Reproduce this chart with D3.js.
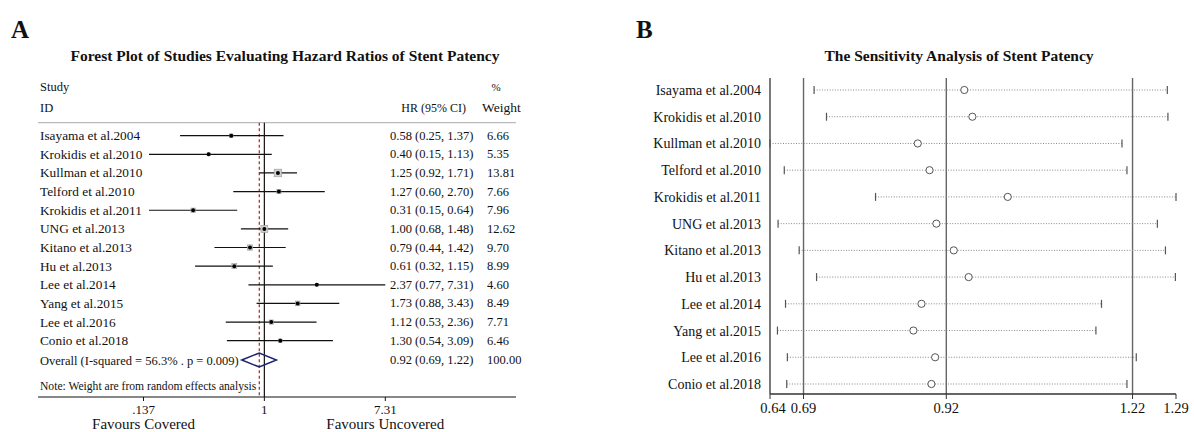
<!DOCTYPE html>
<html>
<head>
<meta charset="utf-8">
<script src="https://cdn.jsdelivr.net/npm/d3@7/dist/d3.min.js"></script>
<style>
  html, body { margin: 0; padding: 0; background: #fff; }
  svg text { font-family: "Liberation Serif", "DejaVu Serif", serif; fill: #111; }
</style>
</head>
<body>
<svg id="chart" width="1194" height="432"></svg>
<script>
// ---------- Panel A data ----------
const studies = ["Isayama et al.2004","Krokidis et al.2010","Kullman et al.2010","Telford et al.2010",
  "Krokidis et al.2011","UNG et al.2013","Kitano et al.2013","Hu et al.2013",
  "Lee et al.2014","Yang et al.2015","Lee et al.2016","Conio et al.2018"];
const hr      = [0.58, 0.40, 1.25, 1.27, 0.31, 1.00, 0.79, 0.61, 2.37, 1.73, 1.12, 1.30];
const hrLow   = [0.25, 0.15, 0.92, 0.60, 0.15, 0.68, 0.44, 0.32, 0.77, 0.88, 0.53, 0.54];
const hrHigh  = [1.37, 1.13, 1.71, 2.70, 0.64, 1.48, 1.42, 1.15, 7.31, 3.43, 2.36, 3.09];
const weights = [6.66, 5.35, 13.81, 7.66, 7.96, 12.62, 9.70, 8.99, 4.60, 8.49, 7.71, 6.46];
const overallEst = 0.92, overallLow = 0.69, overallHigh = 1.22, overallWeight = 100.00;
const overallLabel = "Overall (I-squared = 56.3% . p = 0.009)";
const noteLabel = "Note: Weight are from random effects analysis";
const axisTicksA = [0.137, 1, 7.31];
const axisTickLabelsA = [".137", "1", "7.31"];

// ---------- Panel B data ----------
const sensEst  = [0.949, 0.962, 0.874, 0.893, 1.019, 0.904, 0.932, 0.956, 0.880, 0.867, 0.902, 0.896];
const sensLow  = [0.707, 0.727, 0.636, 0.659, 0.806, 0.649, 0.683, 0.711, 0.661, 0.648, 0.664, 0.663];
const sensHigh = [1.276, 1.277, 1.203, 1.211, 1.290, 1.260, 1.273, 1.289, 1.170, 1.161, 1.226, 1.211];
const refLines = [0.69, 0.92, 1.22];
const axisTicksB = [0.636, 0.69, 0.92, 1.22, 1.29];
const axisTickLabelsB = ["0.64", "0.69", "0.92", "1.22", "1.29"];

const svg = d3.select("#chart");
const f2 = d3.format(".2f");

// ================= PANEL A =================
const gA = svg.append("g");
gA.append("text").attr("x", 11).attr("y", 38).attr("font-size", 25).attr("font-weight", "bold").text("A");
gA.append("text").attr("x", 285).attr("y", 61).attr("text-anchor", "middle")
  .attr("font-size", 15.5).attr("font-weight", "bold").text("Forest Plot of Studies Evaluating Hazard Ratios of Stent Patency");

// headers
gA.append("text").attr("x", 40).attr("y", 91).attr("font-size", 12.5).text("Study");
gA.append("text").attr("x", 40).attr("y", 112).attr("font-size", 12.5).text("ID");
gA.append("text").attr("x", 496).attr("y", 91).attr("font-size", 11).attr("text-anchor", "middle").text("%");
gA.append("text").attr("x", 466).attr("y", 112).attr("font-size", 12).attr("text-anchor", "end").text("HR (95% CI)");
gA.append("text").attr("x", 482).attr("y", 112).attr("font-size", 13.5).text("Weight");
gA.append("line").attr("x1", 38).attr("x2", 516).attr("y1", 122.7).attr("y2", 122.7)
  .attr("stroke", "#aaa").attr("stroke-width", 1);

const xA = d3.scaleLog().domain([0.137, 7.31]).range([143.5, 385.3]);
const yA = d3.scaleLinear().domain([0, 11]).range([135.7, 340.7]);
const axisY = 397;

// reference lines
gA.append("line").attr("x1", xA(1)).attr("x2", xA(1)).attr("y1", 122.7).attr("y2", axisY)
  .attr("stroke", "#111").attr("stroke-width", 1.2);
gA.append("line").attr("x1", xA(overallEst)).attr("x2", xA(overallEst)).attr("y1", 122.7).attr("y2", axisY)
  .attr("stroke", "#b22222").attr("stroke-width", 1.2).attr("stroke-dasharray", "3,2.5");

// rows
studies.forEach((s, i) => {
  const y = yA(i);
  gA.append("text").attr("x", 40).attr("y", y + 4.5).attr("font-size", 13.3).text(s);
  gA.append("line").attr("x1", xA(hrLow[i])).attr("x2", xA(hrHigh[i])).attr("y1", y).attr("y2", y)
    .attr("stroke", "#111").attr("stroke-width", 1.2);
  const side = weights[i] * 0.55;
  gA.append("rect").attr("x", xA(hr[i]) - side / 2).attr("y", y - side / 2)
    .attr("width", side).attr("height", side).attr("fill", "#cfcfcf").attr("stroke", "#999").attr("stroke-width", 0.6);
  gA.append("circle").attr("cx", xA(hr[i])).attr("cy", y).attr("r", 2).attr("fill", "#000");
  gA.append("text").attr("x", 390).attr("y", y + 4).attr("font-size", 12.5)
    .text(`${f2(hr[i])} (${f2(hrLow[i])}, ${f2(hrHigh[i])})`);
  gA.append("text").attr("x", 487).attr("y", y + 4).attr("font-size", 12.5).text(f2(weights[i]));
});

// overall
const yO = 360;
gA.append("text").attr("x", 40).attr("y", yO + 4.5).attr("font-size", 12.5).text(overallLabel);
gA.append("path")
  .attr("d", `M${xA(overallLow)},${yO} L${xA(overallEst)},${yO - 7} L${xA(overallHigh)},${yO} L${xA(overallEst)},${yO + 7} Z`)
  .attr("fill", "none").attr("stroke", "#1c2470").attr("stroke-width", 1.5);
gA.append("text").attr("x", 390).attr("y", yO + 4).attr("font-size", 12.5)
  .text(`${f2(overallEst)} (${f2(overallLow)}, ${f2(overallHigh)})`);
gA.append("text").attr("x", 487).attr("y", yO + 4).attr("font-size", 12.5).text(f2(overallWeight));
gA.append("text").attr("x", 40).attr("y", 390).attr("font-size", 11.6).text(noteLabel);

// axis
gA.append("line").attr("x1", 38).attr("x2", 516).attr("y1", axisY).attr("y2", axisY)
  .attr("stroke", "#111").attr("stroke-width", 1.2);
axisTicksA.forEach((t, i) => {
  gA.append("line").attr("x1", xA(t)).attr("x2", xA(t)).attr("y1", axisY).attr("y2", axisY + 4)
    .attr("stroke", "#111").attr("stroke-width", 1);
  gA.append("text").attr("x", xA(t)).attr("y", 414).attr("text-anchor", "middle").attr("font-size", 13)
    .text(axisTickLabelsA[i]);
});
gA.append("text").attr("x", xA(0.137)).attr("y", 429).attr("text-anchor", "middle").attr("font-size", 15).text("Favours Covered");
gA.append("text").attr("x", xA(7.31)).attr("y", 429).attr("text-anchor", "middle").attr("font-size", 15).text("Favours Uncovered");

// ================= PANEL B =================
const gB = svg.append("g");
gB.append("text").attr("x", 636).attr("y", 38).attr("font-size", 25).attr("font-weight", "bold").text("B");
gB.append("text").attr("x", 959).attr("y", 61).attr("text-anchor", "middle")
  .attr("font-size", 15.5).attr("font-weight", "bold").text("The Sensitivity Analysis of Stent Patency");

const xB = d3.scaleLinear().domain([0.636, 1.29]).range([770, 1176]);
const yB = d3.scaleLinear().domain([0, 11]).range([90, 384]);
const topB = 78, axisYB = 394;

// left axis
gB.append("line").attr("x1", xB(0.636)).attr("x2", xB(0.636)).attr("y1", topB).attr("y2", axisYB)
  .attr("stroke", "#333").attr("stroke-width", 1.3);
refLines.forEach(v => {
  gB.append("line").attr("x1", xB(v)).attr("x2", xB(v)).attr("y1", topB).attr("y2", axisYB)
    .attr("stroke", "#666").attr("stroke-width", 1.4);
});

studies.forEach((s, i) => {
  const y = yB(i);
  gB.append("text").attr("x", 761).attr("y", y + 5).attr("text-anchor", "end").attr("font-size", 14).text(s);
  gB.append("line").attr("x1", xB(sensLow[i])).attr("x2", xB(sensHigh[i])).attr("y1", y).attr("y2", y)
    .attr("stroke", "#888").attr("stroke-width", 1).attr("stroke-dasharray", "1,1.6");
  [sensLow[i], sensHigh[i]].forEach(v => {
    gB.append("line").attr("x1", xB(v)).attr("x2", xB(v)).attr("y1", y - 4).attr("y2", y + 4)
      .attr("stroke", "#555").attr("stroke-width", 1.2);
  });
  gB.append("circle").attr("cx", xB(sensEst[i])).attr("cy", y).attr("r", 3.6)
    .attr("fill", "#fff").attr("stroke", "#555").attr("stroke-width", 1);
});

// bottom axis
gB.append("line").attr("x1", xB(0.636)).attr("x2", xB(1.29)).attr("y1", axisYB).attr("y2", axisYB)
  .attr("stroke", "#333").attr("stroke-width", 1.3);
axisTicksB.forEach((t, i) => {
  gB.append("line").attr("x1", xB(t)).attr("x2", xB(t)).attr("y1", axisYB).attr("y2", axisYB + 5)
    .attr("stroke", "#333").attr("stroke-width", 1);
  gB.append("text").attr("x", xB(t) + (i === 0 ? 3 : 0)).attr("y", 413).attr("text-anchor", "middle")
    .attr("font-size", 14.5).text(axisTickLabelsB[i]);
});
</script>
</body>
</html>
